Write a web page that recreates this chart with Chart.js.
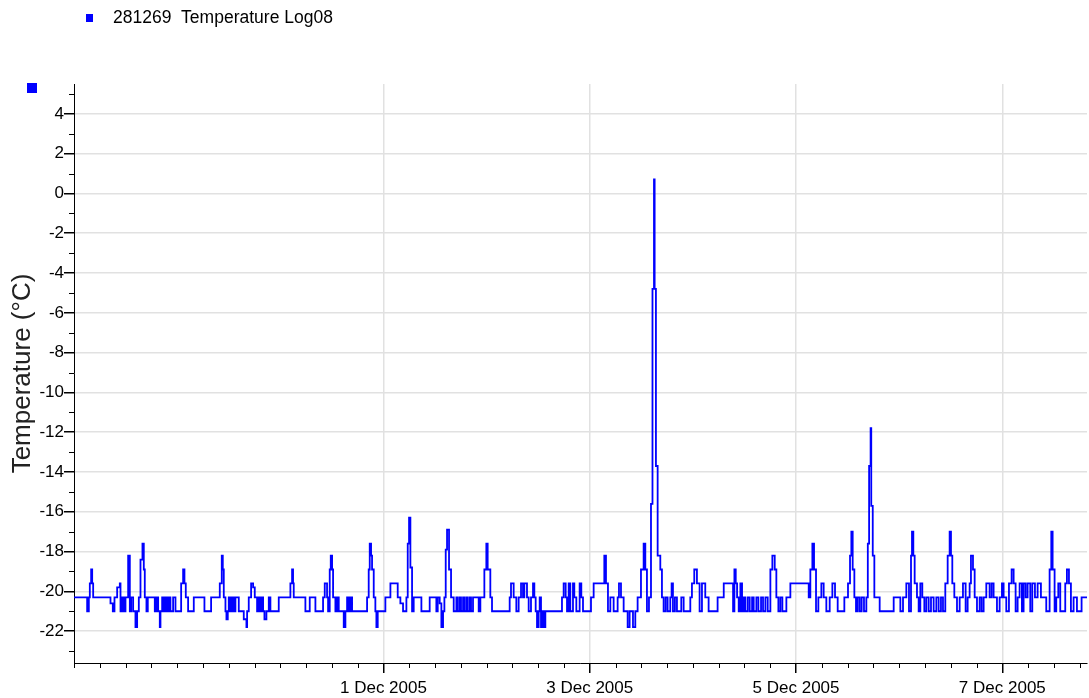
<!DOCTYPE html>
<html>
<head>
<meta charset="utf-8">
<script src="https://cdn.jsdelivr.net/npm/chart.js@4.4.1/dist/chart.umd.min.js"></script>
<style>
  html, body { margin: 0; padding: 0; background: #fff; }
  #wrap { position: relative; width: 1089px; height: 698px; }
</style>
</head>
<body>
<div id="wrap"><canvas id="chart"></canvas></div>
<script>
const SERIES_LABEL = "281269  Temperature Log08";
const Y_TITLE = "Temperature (°C)";

// hours since 28 Nov 2005 00:00 where the logged value changes, and the value from there on
const hours = [
  0, 3.06, 3.45, 3.68, 3.99, 4.23, 4.46, 8.49, 9.03, 9.42,
  10.04, 10.66, 10.82, 11.20, 11.59, 11.98, 12.6, 12.99, 13.30, 13.76,
  14.30, 14.69, 15.08, 15.47, 15.93, 16.24, 16.47, 16.86, 17.17, 18.80,
  19.19, 19.58, 19.96, 20.12, 20.51, 20.89, 21.28, 21.67, 22.06, 22.44,
  23.06, 23.61, 24.93, 25.39, 25.70, 26.01, 26.55, 27.87, 30.35, 31.90,
  33.92, 34.38, 34.62, 34.85, 35.24, 35.47, 35.78, 36.01, 36.40, 36.79,
  37.18, 37.56, 38.34, 39.50, 40.12, 40.28, 40.66, 41.21, 41.67, 42.06,
  42.60, 42.99, 43.38, 43.61, 44.0, 44.31, 44.77, 45.32, 45.70, 47.64,
  50.35, 50.74, 50.97, 51.13, 53.84, 54.85, 56.17, 57.95, 58.34, 58.88,
  59.12, 59.50, 59.74, 60.05, 60.28, 60.82, 61.21, 61.60, 62.76, 63.15,
  63.54, 63.92, 64.31, 64.70, 68.19, 68.57, 68.81, 69.12, 69.35, 69.74,
  70.12, 70.36, 70.67, 72.45, 73.62, 75.32, 75.94, 76.56, 77.34, 77.65,
  77.96, 78.27, 78.66, 79.04, 80.83, 82.76, 84.31, 84.63, 85.09, 85.48,
  85.87, 86.18, 86.49, 86.80, 87.26, 87.73, 88.35, 88.97, 89.28, 89.74,
  90.05, 90.52, 90.83, 91.29, 91.60, 92.07, 92.38, 92.84, 94.16, 94.55,
  95.48, 95.94, 96.25, 96.87, 97.26, 101.37, 101.68, 102.30, 102.92, 103.46,
  104.01, 104.47, 104.78, 105.40, 105.79, 106.33, 106.80, 107.11, 107.42, 107.73,
  108.12, 108.35, 108.66, 108.97, 109.28, 109.67, 113.54, 113.93, 114.40, 114.71,
  115.10, 115.48, 116.10, 116.41, 116.88, 117.65, 118.04, 118.43, 120.29, 120.91,
  123.39, 123.78, 124.24, 124.79, 125.56, 126.49, 126.80, 127.27, 127.89, 128.82,
  129.28, 130.06, 130.60, 131.14, 131.92, 132.54, 132.93, 133.31, 133.78, 134.25,
  134.6, 134.95, 135.1, 135.4, 135.8, 136.42, 136.80, 137.19, 137.66, 138.12,
  138.74, 139.05, 139.36, 139.82, 140.29, 141.30, 141.85, 143.40, 143.78, 144.32,
  144.94, 145.56, 146.11, 146.88, 147.66, 149.75, 151.18, 153.35, 153.66, 153.97,
  154.28, 154.66, 155.05, 155.44, 155.83, 156.21, 156.76, 157.22, 157.77, 158.15,
  158.77, 159.24, 159.86, 160.32, 160.87, 161.41, 162.03, 162.49, 163.04, 163.42,
  163.89, 164.35, 164.82, 165.75, 166.68, 170.95, 171.33, 171.80, 172.19, 172.65,
  173.19, 173.89, 174.43, 175.05, 175.83, 176.45, 177.07, 177.69, 179.24, 180.09,
  180.56, 180.87, 181.18, 181.57, 181.95, 182.34, 182.81, 183.27, 183.81, 184.36,
  184.7, 185.0, 185.35, 185.5, 185.85, 186.22, 187.46, 190.72, 192.27, 192.89,
  193.66, 194.28, 194.75, 194.98, 195.29, 195.60, 196.14, 196.53, 196.92, 197.38,
  197.85, 198.31, 198.86, 199.40, 200.02, 200.64, 201.18, 201.72, 202.19, 202.73,
  203.28, 203.74, 204.05, 204.36, 204.83, 205.45, 206.07, 206.84, 207.46, 207.93,
  208.39, 208.70, 209.17, 209.56, 210.10, 210.72, 211.18, 211.65, 212.27, 213.04,
  213.51, 213.97, 214.75, 215.37, 215.91, 216.30, 216.92, 217.54, 218.16, 218.63,
  219.09, 219.56, 220.02, 220.56, 220.95, 221.42, 221.88, 222.50, 222.97, 223.59,
  224.21, 224.98, 226.22, 227.0, 227.39, 227.70, 228.16, 228.55, 229.02, 229.48,
  230.64, 231.03, 231.50, 231.96, 232.58, 233.36, 234.44, 235.7
];

const temps = [
  -20.3, -21.0, -20.3, -19.6, -18.9, -19.6, -20.3, -20.6, -21.0, -20.3,
  -19.8, -19.6, -21.0, -20.3, -21.0, -20.3, -18.2, -21.0, -20.3, -21.0,
  -21.8, -21.0, -20.3, -18.4, -17.6, -18.9, -20.3, -21.0, -20.3, -21.0,
  -20.3, -21.0, -21.8, -21.0, -20.3, -21.0, -20.3, -21.0, -20.3, -21.0,
  -20.3, -21.0, -19.6, -18.9, -19.6, -20.3, -21.0, -20.3, -21.0, -20.3,
  -19.6, -18.2, -18.9, -20.3, -21.0, -21.4, -21.0, -20.3, -21.0, -20.3,
  -21.0, -20.3, -21.0, -21.4, -21.8, -21.0, -20.3, -19.6, -19.8, -20.3,
  -21.0, -20.3, -21.0, -20.3, -21.0, -21.4, -21.0, -20.3, -21.0, -20.3,
  -19.6, -18.9, -19.6, -20.3, -21.0, -20.3, -21.0, -20.3, -19.6, -20.3,
  -21.0, -18.9, -18.2, -18.9, -20.3, -21.0, -20.3, -21.0, -21.8, -21.0,
  -20.3, -21.0, -20.3, -21.0, -20.3, -18.9, -17.6, -18.2, -18.9, -20.3,
  -21.0, -21.8, -21.0, -20.3, -19.6, -20.3, -20.6, -21.0, -20.3, -17.6,
  -16.3, -18.8, -21.0, -20.3, -21.0, -20.3, -21.0, -20.3, -20.6, -21.8,
  -21.0, -20.3, -17.9, -16.9, -18.9, -20.3, -21.0, -20.3, -21.0, -20.3,
  -21.0, -20.3, -21.0, -20.3, -21.0, -20.3, -21.0, -20.3, -21.0, -20.3,
  -18.9, -17.6, -18.9, -20.3, -21.0, -20.3, -19.6, -20.3, -21.0, -20.3,
  -19.6, -20.3, -19.6, -20.3, -21.0, -20.3, -19.6, -20.3, -21.0, -21.8,
  -21.0, -20.3, -21.8, -21.0, -21.8, -21.0, -20.3, -19.6, -20.3, -21.0,
  -19.6, -21.0, -19.6, -20.3, -21.0, -19.6, -20.3, -21.0, -20.3, -19.6,
  -18.2, -19.6, -21.0, -20.3, -21.0, -20.3, -19.6, -20.3, -21.0, -21.8,
  -21.0, -21.8, -21.0, -20.3, -18.9, -17.6, -18.9, -21.0, -20.3, -15.6,
  -4.8, 0.7, -4.8, -13.7, -18.2, -18.9, -20.3, -21.0, -20.3, -21.0,
  -20.3, -19.6, -21.0, -20.3, -21.0, -20.3, -21.0, -20.3, -19.6, -18.9,
  -19.6, -21.0, -19.6, -20.3, -21.0, -20.3, -19.6, -21.0, -18.9, -19.6,
  -20.3, -21.0, -19.6, -21.0, -20.3, -21.0, -20.3, -21.0, -20.3, -21.0,
  -20.3, -21.0, -20.3, -21.0, -20.3, -21.0, -18.9, -18.2, -18.9, -20.3,
  -21.0, -20.3, -21.0, -20.3, -19.6, -20.3, -18.9, -17.6, -18.9, -21.0,
  -20.3, -19.6, -20.3, -21.0, -20.3, -19.6, -20.3, -21.0, -20.3, -19.6,
  -18.2, -17.0, -18.9, -20.3, -21.0, -20.3, -21.0, -20.3, -21.0, -20.3,
  -17.6, -13.7, -11.8, -15.7, -18.2, -20.3, -21.0, -20.3, -21.0, -20.3,
  -19.6, -21.0, -18.2, -17.0, -18.2, -19.6, -20.3, -21.0, -19.6, -20.3,
  -21.0, -20.3, -21.0, -20.3, -21.0, -20.3, -21.0, -20.3, -21.0, -19.6,
  -18.2, -17.0, -18.2, -19.6, -20.3, -21.0, -20.3, -19.6, -21.0, -20.3,
  -19.6, -18.2, -18.9, -20.3, -21.0, -20.3, -21.0, -20.3, -19.6, -20.3,
  -19.6, -20.3, -21.0, -20.3, -19.6, -20.3, -21.0, -19.6, -18.9, -19.6,
  -21.0, -20.3, -19.6, -21.0, -19.6, -20.3, -19.6, -21.0, -19.6, -20.3,
  -19.6, -20.3, -21.0, -18.9, -17.0, -18.9, -21.0, -20.3, -19.6, -21.0,
  -19.6, -18.9, -19.6, -21.0, -20.3, -21.0, -20.3, -20.3
];

const dateTickHours = [72, 120, 168, 216];
const dateTickLabels = ["1 Dec 2005", "3 Dec 2005", "5 Dec 2005", "7 Dec 2005"];

const X_MIN = 0;
const X_MAX = 235.7;
const Y_MIN = -23.6;
const Y_MAX = 5.5;

const FONT = "'Liberation Sans', Arial, sans-serif";
const GRID = "#e1e1e1";
const CLEAR = "rgba(0,0,0,0)";

function isDateTick(value) {
  return dateTickHours.includes(value);
}

const extras = {
  id: "extras",
  afterDraw(chart) {
    const ctx = chart.ctx;
    const xs = chart.scales.x;
    const ys = chart.scales.y;
    ctx.save();
    ctx.strokeStyle = "#000";
    ctx.lineWidth = 1;
    ctx.beginPath();
    xs.ticks.forEach((t) => {
      if (isDateTick(t.value)) return;
      const px = Math.round(xs.getPixelForValue(t.value)) + 0.5;
      ctx.moveTo(px, xs.top);
      ctx.lineTo(px, xs.top + 5);
    });
    ys.ticks.forEach((t) => {
      if (t.value % 2 === 0) return;
      const py = Math.round(ys.getPixelForValue(t.value)) + 0.5;
      ctx.moveTo(ys.right - 5, py);
      ctx.lineTo(ys.right, py);
    });
    ctx.stroke();

    // legend row and the little marker in the corner
    const color = chart.data.datasets[0].borderColor;
    ctx.fillStyle = color;
    ctx.fillRect(86, 14, 7, 8);
    ctx.fillRect(27, 83, 10, 10);
    ctx.fillStyle = "#000";
    ctx.font = "17.5px " + FONT;
    ctx.textBaseline = "middle";
    ctx.fillText(chart.data.datasets[0].label, 113, 18);
    ctx.restore();
  }
};

new Chart(document.getElementById("chart"), {
  type: "line",
  data: {
    datasets: [
      {
        label: SERIES_LABEL,
        data: hours.map((h, i) => ({ x: h, y: temps[i] })),
        borderColor: "#0000ff",
        borderWidth: 1.8,
        stepped: true,
        pointRadius: 0,
        fill: false
      }
    ]
  },
  options: {
    responsive: true,
    maintainAspectRatio: false,
    animation: false,
    layout: { padding: { top: 84, right: 2, left: 0, bottom: 0 } },
    plugins: { legend: { display: false }, tooltip: { enabled: false } },
    scales: {
      x: {
        type: "linear",
        min: X_MIN,
        max: X_MAX,
        afterBuildTicks: (scale) => {
          const ticks = [];
          for (let h = 0; h <= X_MAX; h += 6) ticks.push({ value: h });
          scale.ticks = ticks;
        },
        afterFit: (scale) => { scale.height = 35; },
        border: { color: "#000", width: 1 },
        grid: {
          color: (ctx) => (ctx.tick && isDateTick(ctx.tick.value) ? GRID : CLEAR),
          tickColor: (ctx) => (ctx.tick && isDateTick(ctx.tick.value) ? "#000" : CLEAR),
          tickLength: 10,
          lineWidth: 1.5
        },
        ticks: {
          autoSkip: false,
          maxRotation: 0,
          padding: 5,
          color: "#000",
          font: { family: FONT, size: 17 },
          callback: (value) => {
            const idx = dateTickHours.indexOf(value);
            return idx >= 0 ? dateTickLabels[idx] : "";
          }
        }
      },
      y: {
        type: "linear",
        min: Y_MIN,
        max: Y_MAX,
        afterBuildTicks: (scale) => {
          const ticks = [];
          for (let v = -23; v <= 5; v += 1) ticks.push({ value: v });
          scale.ticks = ticks;
        },
        afterFit: (scale) => { scale.width = 74; },
        border: { color: "#000", width: 1 },
        title: {
          display: true,
          text: Y_TITLE,
          color: "#222",
          font: { family: FONT, size: 26 },
          padding: { top: 7, bottom: 0 }
        },
        grid: {
          color: (ctx) => (ctx.tick && ctx.tick.value % 2 === 0 ? GRID : CLEAR),
          tickColor: (ctx) => (ctx.tick && ctx.tick.value % 2 === 0 ? "#000" : CLEAR),
          tickLength: 10,
          lineWidth: 1.5
        },
        ticks: {
          autoSkip: false,
          padding: 0,
          color: "#000",
          font: { family: FONT, size: 17 },
          callback: (value) => (value % 2 === 0 ? String(value) : "")
        }
      }
    }
  },
  plugins: [extras]
});
</script>
</body>
</html>
